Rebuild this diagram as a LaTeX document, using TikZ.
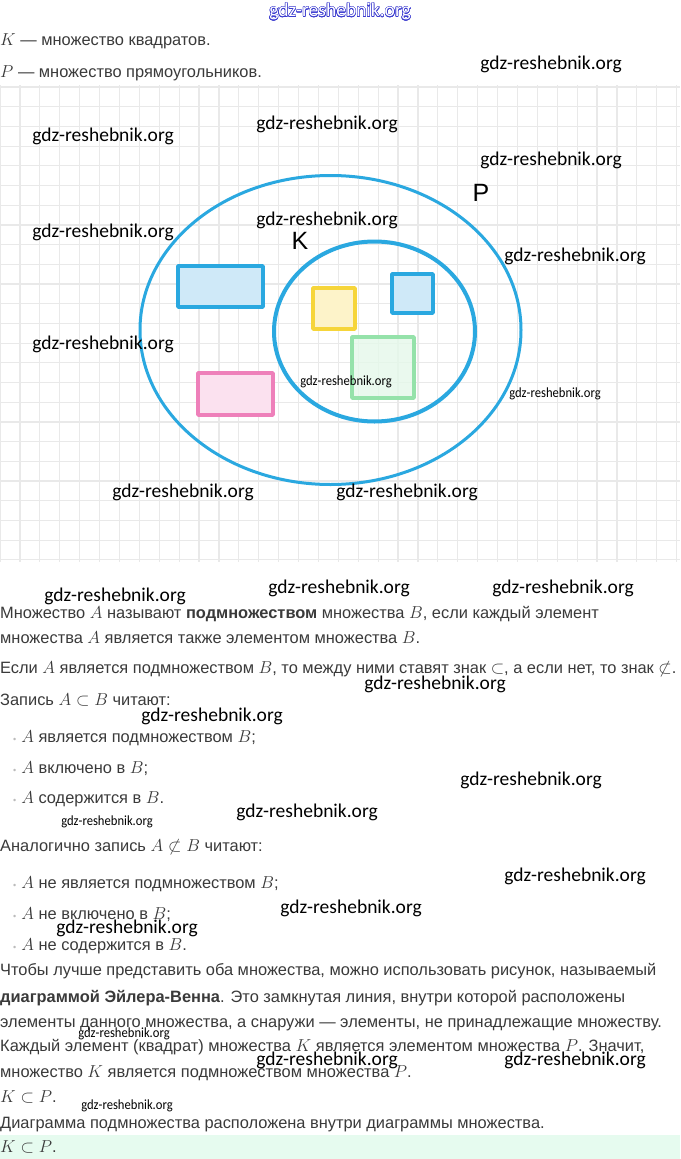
\documentclass[tikz,border=0pt]{standalone}
\usepackage{amsmath,amssymb}
\usepackage{fontspec}
\setmainfont{Liberation Sans}
\newfontfamily\wmfont{Carlito}
\usepackage{tikz}
\usepackage{xcolor}
\usepackage{contour}
\contourlength{0.45pt}
\definecolor{ink}{HTML}{3A3A3A}
\definecolor{gridline}{HTML}{E9E9E9}
\definecolor{setblue}{HTML}{2AA8E0}
\definecolor{bluefill}{HTML}{CFE9F8}
\definecolor{pinkline}{HTML}{EE80BA}
\definecolor{pinkfill}{HTML}{FBE1EF}
\definecolor{yellowline}{HTML}{F6D53A}
\definecolor{yellowfill}{HTML}{FDF3C9}
\definecolor{greenline}{HTML}{95E2AA}
\definecolor{greenfill}{HTML}{E5F8EA}
\definecolor{band}{HTML}{E6FBEF}
\definecolor{bulletgray}{HTML}{BBBBBB}
\definecolor{wmblue}{HTML}{3B3BD0}

\begin{document}
\begin{tikzpicture}[x=1pt,y=-1pt,line join=round,
  txt/.style={anchor=base west,inner sep=0pt,text=ink,font=\fontsize{16.4}{19}\selectfont},
  wm/.style={inner sep=0pt,font=\wmfont\fontsize{19.5}{22}\selectfont},
  wmsmall/.style={inner sep=0pt,xscale=0.9,font=\wmfont\fontsize{14}{16}\selectfont},
  setlabel/.style={inner sep=0pt,font=\fontsize{25}{28}\selectfont}]
\fill[white] (0,0) rectangle (680,1159);
\useasboundingbox (0,0) rectangle (680,1159);

% squared paper
\foreach \i in {0,...,34}
  \draw[gridline,line width=1.2pt] (\i*19.9,85) -- (\i*19.9,562);
\foreach \j in {0,...,24}
  \draw[gridline,line width=1.2pt] (0,87+\j*19.7) -- (680,87+\j*19.7);

% the two sets
\draw[setblue,line width=3pt] (330.5,330) ellipse [x radius=190.5,y radius=154.5];
\draw[setblue,line width=4pt] (374.5,331.5) ellipse [x radius=100.5,y radius=90];
\node[setlabel] (P) at (481,193) {P};
\node[setlabel] (K) at (300,241) {K};

% rectangles and squares
\draw[setblue,fill=bluefill,line width=3.5pt] (178,266) rectangle (263,307);
\draw[pinkline,fill=pinkfill,line width=3.5pt] (198,373) rectangle (273,415);
\draw[yellowline,fill=yellowfill,line width=3.5pt] (313,288) rectangle (355,329);
\draw[setblue,fill=bluefill,line width=3.5pt] (392,274) rectangle (433,313);
\draw[greenline,fill=greenfill,line width=3.5pt,fill opacity=0.8] (352,337) rectangle (414,398);

% text
\node[txt] (t1) at (0,45) {$K$ --- множество квадратов.};
\node[txt] (t2) at (0,77) {$P$ --- множество прямоугольников.};
\node[txt] (t3) at (0,618) {Множество $A$ называют \textbf{подмножеством} множества $B$, если каждый элемент};
\node[txt] (t4) at (0,643) {множества $A$ является также элементом множества $B$.};
\node[txt] (t5) at (0,673) {Если $A$ является подмножеством $B$, то между ними ставят знак $\subset$, а если нет, то знак $\not\subset$.};
\node[txt] (t6) at (0,705) {Запись $A\subset B$ читают:};
\node[txt] (t7) at (13,742) {{\color{bulletgray}\small•}\hspace{5pt}$A$ является подмножеством $B$;};
\node[txt] (t8) at (13,773) {{\color{bulletgray}\small•}\hspace{5pt}$A$ включено в $B$;};
\node[txt] (t9) at (13,803) {{\color{bulletgray}\small•}\hspace{5pt}$A$ содержится в $B$.};
\node[txt] (t10) at (0,851) {Аналогично запись $A\not\subset B$ читают:};
\node[txt] (t11) at (13,888) {{\color{bulletgray}\small•}\hspace{5pt}$A$ не является подмножеством $B$;};
\node[txt] (t12) at (13,919) {{\color{bulletgray}\small•}\hspace{5pt}$A$ не включено в $B$;};
\node[txt] (t13) at (13,950) {{\color{bulletgray}\small•}\hspace{5pt}$A$ не содержится в $B$.};
\node[txt] (t14) at (0,975) {Чтобы лучше представить оба множества, можно использовать рисунок, называемый};
\node[txt] (t15) at (0,1002) {\textbf{диаграммой Эйлера-Венна}. Это замкнутая линия, внутри которой расположены};
\node[txt] (t16) at (0,1027) {элементы данного множества, а снаружи --- элементы, не принадлежащие множеству.};
\node[txt] (t17) at (0,1051) {Каждый элемент (квадрат) множества $K$ является элементом множества $P$. Значит,};
\node[txt] (t18) at (0,1077) {множество $K$ является подмножеством множества $P$.};
\node[txt] (t19) at (0,1102) {$K\subset P$.};
\node[txt] (t20) at (0,1128) {Диаграмма подмножества расположена внутри диаграммы множества.};
\fill[band] (0,1135) rectangle (680,1159);
\node[txt] (t21) at (0,1152) {$K\subset P$.};

% watermarks
\node[wm] (w1) at (340,12) {\contour{wmblue}{\textcolor{white}{gdz-reshebnik.org}}};
\node[wm] (w2) at (551,64) {gdz-reshebnik.org};
\node[wm] (w3) at (103,136) {gdz-reshebnik.org};
\node[wm] (w4) at (327,124) {gdz-reshebnik.org};
\node[wm] (w5) at (551,160) {gdz-reshebnik.org};
\node[wm] (w6) at (103,232) {gdz-reshebnik.org};
\node[wm] (w7) at (327,220) {gdz-reshebnik.org};
\node[wm] (w8) at (575,256) {gdz-reshebnik.org};
\node[wm] (w9) at (103,344) {gdz-reshebnik.org};
\node[wmsmall] (w10) at (346,382) {gdz-reshebnik.org};
\node[wmsmall] (w11) at (555,394) {gdz-reshebnik.org};
\node[wm] (w12) at (183,492) {gdz-reshebnik.org};
\node[wm] (w13) at (407,492) {gdz-reshebnik.org};
\node[wm] (w14) at (115,596) {gdz-reshebnik.org};
\node[wm] (w15) at (339,588) {gdz-reshebnik.org};
\node[wm] (w16) at (563,588) {gdz-reshebnik.org};
\node[wm] (w17) at (435,684) {gdz-reshebnik.org};
\node[wm] (w18) at (212,716) {gdz-reshebnik.org};
\node[wm] (w19) at (531,780) {gdz-reshebnik.org};
\node[wm] (w20) at (307,812) {gdz-reshebnik.org};
\node[wmsmall] (w21) at (107,822) {gdz-reshebnik.org};
\node[wm] (w22) at (575,876) {gdz-reshebnik.org};
\node[wm] (w23) at (351,908) {gdz-reshebnik.org};
\node[wm] (w24) at (127,928) {gdz-reshebnik.org};
\node[wmsmall] (w25) at (124,1034) {gdz-reshebnik.org};
\node[wm] (w26) at (327,1060) {gdz-reshebnik.org};
\node[wm] (w27) at (575,1060) {gdz-reshebnik.org};
\node[wmsmall] (w28) at (127,1106) {gdz-reshebnik.org};
\end{tikzpicture}
\end{document}
